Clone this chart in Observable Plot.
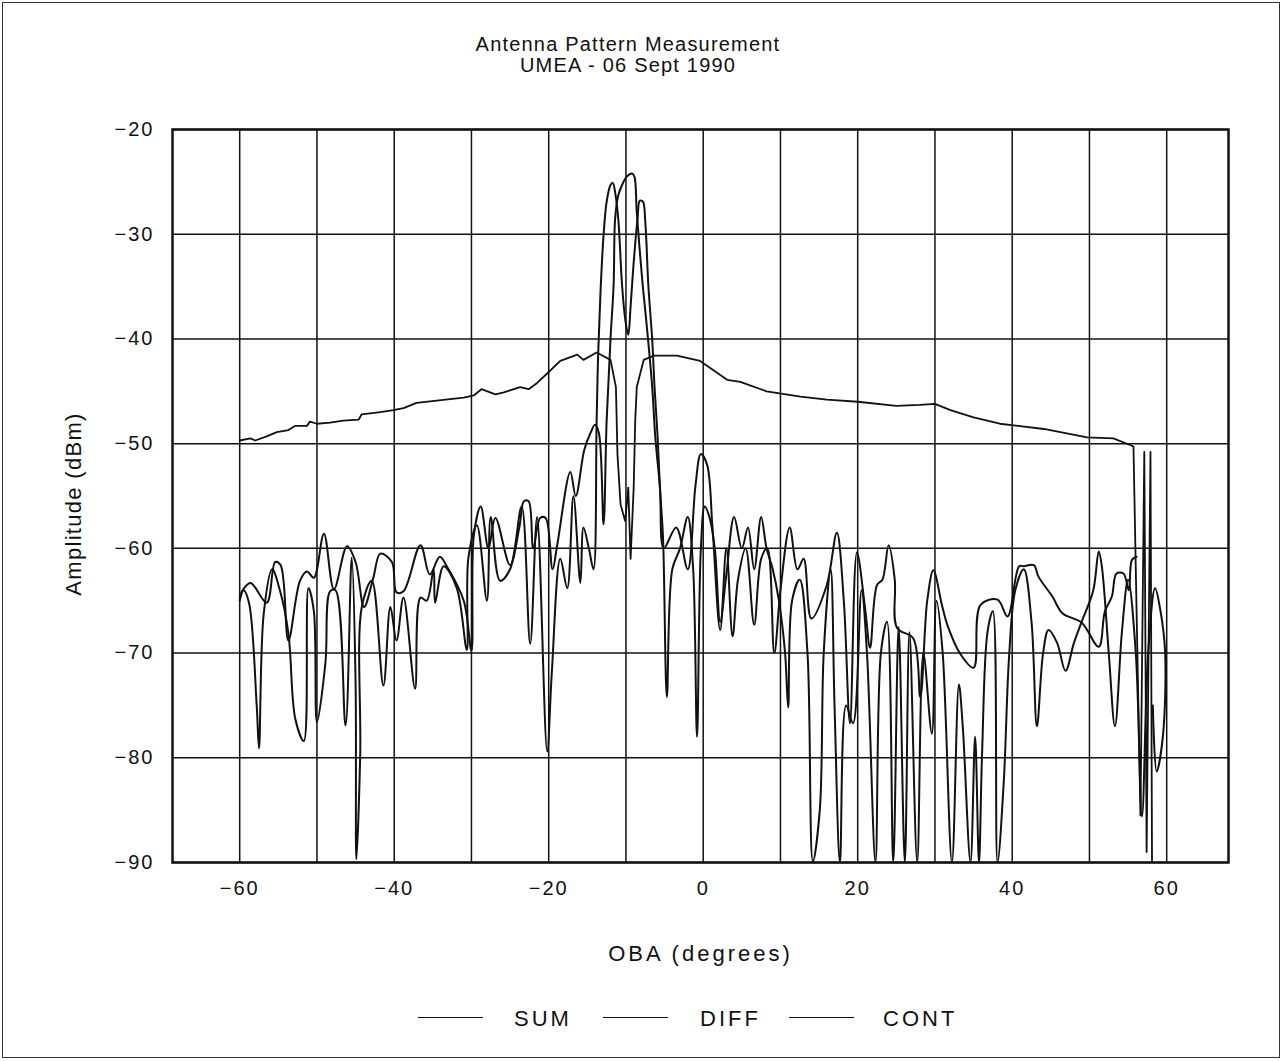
<!DOCTYPE html>
<html>
<head>
<meta charset="utf-8">
<script src="https://cdn.jsdelivr.net/npm/d3@7"></script>
<script src="https://cdn.jsdelivr.net/npm/@observablehq/plot@0.6"></script>
<style>
  html, body { margin: 0; padding: 0; background: #fff; }
  #page { position: relative; width: 1283px; height: 1061px; overflow: hidden; background: #fff;
          font-family: "Liberation Sans", Arial, Helvetica, sans-serif; color: #111; }
  #border { position: absolute; left: 2px; top: 2px; width: 1276px; height: 1054px; border: 1.5px solid #333; pointer-events: none; }
  #title { position: absolute; left: 0; top: 34px; width: 1256px; text-align: center; font-size: 20px; line-height: 21px; letter-spacing: 1.2px; }
  #chart { position: absolute; left: 0; top: 100px; }
  #chart svg text { letter-spacing: 2px; }
  #chart g[aria-label="x-axis label"] text { font-size: 22px; letter-spacing: 3px; }
  #chart g[aria-label="y-axis label"] text { font-size: 22px; letter-spacing: 1.3px; }
  #chart g[aria-label="y-axis label"] { translate: 0px 8px; }
  #legend { position: absolute; left: 0; top: 1000px; width: 1283px; height: 40px; font-size: 22px; letter-spacing: 3px; }
  .sw { position: absolute; top: 17px; height: 0; border-top: 1.8px solid #111; }
  .lb { position: absolute; top: 6px; }
</style>
</head>
<body>
<div id="page">
  <div id="border"></div>
  <div id="title">Antenna Pattern Measurement<br>UMEA - 06 Sept 1990</div>
  <div id="chart"></div>
  <div id="legend"></div>
</div>
<script>
const seriesNames = ["SUM", "DIFF", "CONT"];
const xTicks = [-60, -40, -20, 0, 20, 40, 60];
const yTicks = [-20, -30, -40, -50, -60, -70, -80, -90];
const xGrid = [-60, -50, -40, -30, -20, -10, 0, 10, 20, 30, 40, 50, 60];

// SUM: central main lobe and the upper side-lobe trace
const sumX = [-60,-59.7,-58.6,-56.5,-55.4,-54.7,-53.7,-52.2,-51.3,-50.4,-49.1,-47.8,-46.1,-45.0,-43.9,-42.7,-41.8,-40.3,-39.7,-38.8,-36.6,-35.4,-34.1,-33.2,-31.0,-30.0,-29.7,-28.8,-27.8,-26.9,-25.0,-23.8,-23.2,-22.6,-22.0,-21.1,-20.4,-19.5,-18.9,-17.2,-16.5,-15.4,-14.6,-14.0,-13.5,
  -12.9,-12.5,-12.0,-11.6,-11.4,-11.0,-10.5,-9.9,-9.2,-8.9,-8.6,-7.9,-7.3,-6.6,-6.2,-5.6,-5.1,
  -3.5,-2.0,-1.0,-0.3,0.5,1.2,2.2,3.0,3.8,4.5,5.5,6.6,7.5,8.3,9.2,10.0,11.2,12.2,13.0,14.0,16.0,17.3,18.2,19.0,19.9,21.0,21.6,22.5,23.2,24.0,24.8,25.1,27.2,28.1,29.0,29.8,30.9,31.6,33.3,35.0,35.9,38.1,39.4,40.9,41.5,42.8,43.4,45.2,46.5,49.0,51.2,52.0,52.9,53.5,54.4,55.1,55.5,56.1];
const sumY = [-64.8,-64.1,-63.3,-65.2,-61.3,-61.6,-68.8,-63.1,-62.2,-62.8,-58.6,-63.9,-59.8,-61.3,-65.6,-62.8,-60.5,-61.3,-64.2,-64.1,-59.7,-62.5,-60.8,-61.7,-65,-69.8,-58.8,-56,-60,-57.1,-61.6,-58,-55.5,-55.5,-60,-57.1,-57.1,-62,-59.7,-52.7,-55,-50.6,-49,-48.2,-49,
  -57.7,-47.8,-40,-34.9,-28.5,-26.3,-25.3,-24.5,-24.2,-24.5,-27.9,-34.3,-38.8,-44.6,-49.4,-54.2,-60,
  -58,-62,-54,-51,-52,-58,-67.8,-60,-68.4,-63,-60,-67.3,-61,-60,-70,-64,-58.0,-62,-61,-66.7,-63.5,-58.5,-65,-76.7,-60.4,-66,-69.5,-63.5,-63,-59.7,-63,-67.6,-68.6,-74.2,-65,-62.1,-65.4,-67.3,-70.1,-71.4,-65.4,-64.9,-66.5,-61.7,-61.7,-61.6,-62.7,-64.6,-66.2,-67.1,-69.4,-66,-64.6,-62.4,-62.4,-64,-61.1,-60.8];

// DIFF: twin lobes with the boresight null, and the deep side-lobe trace
const diffX = [-60,-59.5,-58.8,-57.8,-57.5,-56.9,-55.8,-54.8,-53.7,-52.8,-51.7,-51.1,-50.4,-50.0,-48.9,-48.3,-47.6,-46.3,-45.5,-45.0,-44.9,-44.4,-44.2,-42.9,-41.4,-40.5,-39.7,-38.8,-37.3,-36.6,-35.8,-34.9,-34.7,-33.6,-31.9,-30.6,-30.4,-29.3,-28.0,-27.5,-26.3,-25.0,-23.5,-22.4,-21.5,-20.2,-19.6,-18.5,-17.6,-16.8,-15.9,-15.5,-14.8,-14.2,
  -13.8,-13.6,-13.3,-12.9,-12.5,-12.0,-11.7,-11.4,-11.0,-10.5,-10.1,-9.7,-9.4,-9.0,-8.5,-8.2,-7.8,-7.5,-7.1,-6.6,-6.3,-5.9,-5.6,-5.2,
  -4.7,-4.0,-3.0,-2.0,-1.3,-0.8,-0.3,0.2,0.8,1.5,2.2,3.0,4.0,5.0,5.8,6.6,7.5,8.2,9.0,9.8,10.6,11.0,11.5,12.5,13.5,14.2,15.1,15.6,16.5,17.0,17.7,18.5,19.4,20.5,21.2,22.3,23.0,23.8,24.6,25.3,26.1,26.7,27.7,28.5,29.6,30.2,31.0,32.2,33.1,33.6,34.6,35.2,35.7,36.1,36.8,37.5,38.1,38.9,39.6,40.4,41.5,42.5,43.2,44.0,44.7,45.8,46.9,48.0,49.0,50.5,51.2,51.6,52.5,53.3,54.2,55.0,56.0,56.8,57.6,58.5,59.2,59.8,59.5,58.7,58.2];
const diffY = [-65,-64,-65.2,-75.0,-79.1,-66.3,-62,-64,-68.1,-76.3,-78.4,-63.8,-66,-76.6,-70.9,-64.1,-64,-76.9,-60.9,-72.8,-89.7,-79.7,-65.6,-63.1,-73.1,-65.6,-68.8,-64.7,-73.4,-64.7,-65,-62,-65.2,-61.7,-63.8,-69.7,-60.9,-57.8,-65,-57,-63.1,-62,-56,-69.1,-57,-79.4,-71.9,-61,-63.8,-55,-63.3,-58,-60,-62,
  -48,-41.5,-35.6,-30.1,-26.9,-25.3,-25.1,-26,-28.5,-34.9,-38.1,-39.6,-36.9,-32.7,-28.5,-26.8,-26.9,-28.8,-34.9,-40.1,-44.6,-49.4,-54.2,-59,
  -74.2,-62,-60,-57,-62,-78,-60,-56,-57,-60,-67,-62.5,-57,-60,-58,-62,-57,-60,-62,-65,-70,-75.2,-65,-63,-70,-89.9,-84.9,-70,-62,-75,-90,-75,-76.7,-64,-70,-90,-70,-67,-90,-67.5,-90,-68,-90,-70,-77.7,-65,-70,-90,-73,-77,-90,-78,-90,-79.6,-68,-66,-90,-82.4,-70.3,-64,-62,-67,-77,-70,-67.8,-69,-71.7,-69,-67,-64,-60.3,-61.7,-70,-77,-68,-63,-70,-85.6,-70,-63.8,-66,-70,-78,-81.3,-75];

// CONT: smooth trace with the dip under the main lobe
const contX = [-60,-58.6,-58.0,-56.5,-55.2,-53.7,-52.8,-51.3,-50.9,-50.0,-48.3,-46.6,-44.6,-44.2,-41.8,-40.1,-38.8,-37.1,-34.5,-31.0,-29.7,-28.7,-26.9,-25.8,-23.7,-22.6,-21.5,-20.2,-18.5,-16.3,-15.5,-13.8,
  -12.0,-11.3,-11.1,-10.7,-10.1,-9.7,-9.4,-9.0,-8.8,-8.6,
  -7.7,-6.4,-3.4,-0.4,3.1,4.8,8.2,12.6,16,20,25,28,30,32,35,38.4,44.1,49.7,53.1,55.5,55.7,56.6,57.1,57.4,57.9,58.1];
const contY = [-49.7,-49.5,-49.7,-49.3,-48.9,-48.7,-48.3,-48.3,-47.9,-48.1,-48.0,-47.8,-47.7,-47.2,-47.0,-46.8,-46.6,-46.1,-45.9,-45.6,-45.4,-44.8,-45.3,-45.1,-44.6,-44.8,-44.2,-43.3,-42.1,-41.5,-42.0,-41.3,
  -42.0,-44.6,-51,-55.8,-57.4,-54.2,-61,-54.2,-47.8,-44.6,
  -42.0,-41.6,-41.6,-42.1,-43.9,-44.1,-45.0,-45.5,-45.8,-46.0,-46.4,-46.3,-46.2,-46.8,-47.5,-48.1,-48.6,-49.4,-49.5,-50.2,-50.3,-85.5,-50.8,-89,-50.8,-90];

const sum = sumX.map((x, i) => ({x, y: sumY[i]}));
const diff = diffX.map((x, i) => ({x, y: diffY[i]}));
const cont = contX.map((x, i) => ({x, y: contY[i]}));

const ink = "#111";
const chart = Plot.plot({
  width: 1283,
  height: 900,
  marginLeft: 172,
  marginRight: 55,
  marginTop: 29,
  marginBottom: 138,
  style: {fontFamily: "'Liberation Sans', Arial, sans-serif", fontSize: "20px", color: ink, background: "transparent"},
  x: {domain: [-68.7, 68]},
  y: {domain: [-90, -20]},
  marks: [
    Plot.gridX(xGrid, {stroke: ink, strokeOpacity: 1, strokeWidth: 1.5}),
    Plot.gridY(yTicks, {stroke: ink, strokeOpacity: 1, strokeWidth: 1.5}),
    Plot.line(cont, {x: "x", y: "y", stroke: ink, strokeWidth: 1.8, curve: "linear", clip: true}),
    Plot.line(sum, {x: "x", y: "y", stroke: ink, strokeWidth: 2, curve: "catmull-rom", clip: true}),
    Plot.line(diff, {x: "x", y: "y", stroke: ink, strokeWidth: 2, curve: "catmull-rom", clip: true}),
    Plot.frame({stroke: ink, strokeWidth: 2.5}),
    Plot.axisX(xTicks, {tickSize: 0, tickPadding: 18, label: "OBA (degrees)", labelAnchor: "center", labelArrow: "none", labelOffset: 98}),
    Plot.axisY(yTicks, {tickSize: 0, tickPadding: 18, label: "Amplitude (dBm)", labelAnchor: "center", labelArrow: "none", labelOffset: 107})
  ]
});
document.getElementById("chart").appendChild(chart);

// legend
const legend = document.getElementById("legend");
const swatchLeft = [418, 603, 789];
const labelLeft = [514, 700, 883];
seriesNames.forEach((name, i) => {
  const s = document.createElement("div");
  s.className = "sw";
  s.style.left = swatchLeft[i] + "px";
  s.style.width = "65px";
  legend.appendChild(s);
  const t = document.createElement("div");
  t.className = "lb";
  t.style.left = labelLeft[i] + "px";
  t.textContent = name;
  legend.appendChild(t);
});
</script>
</body>
</html>
